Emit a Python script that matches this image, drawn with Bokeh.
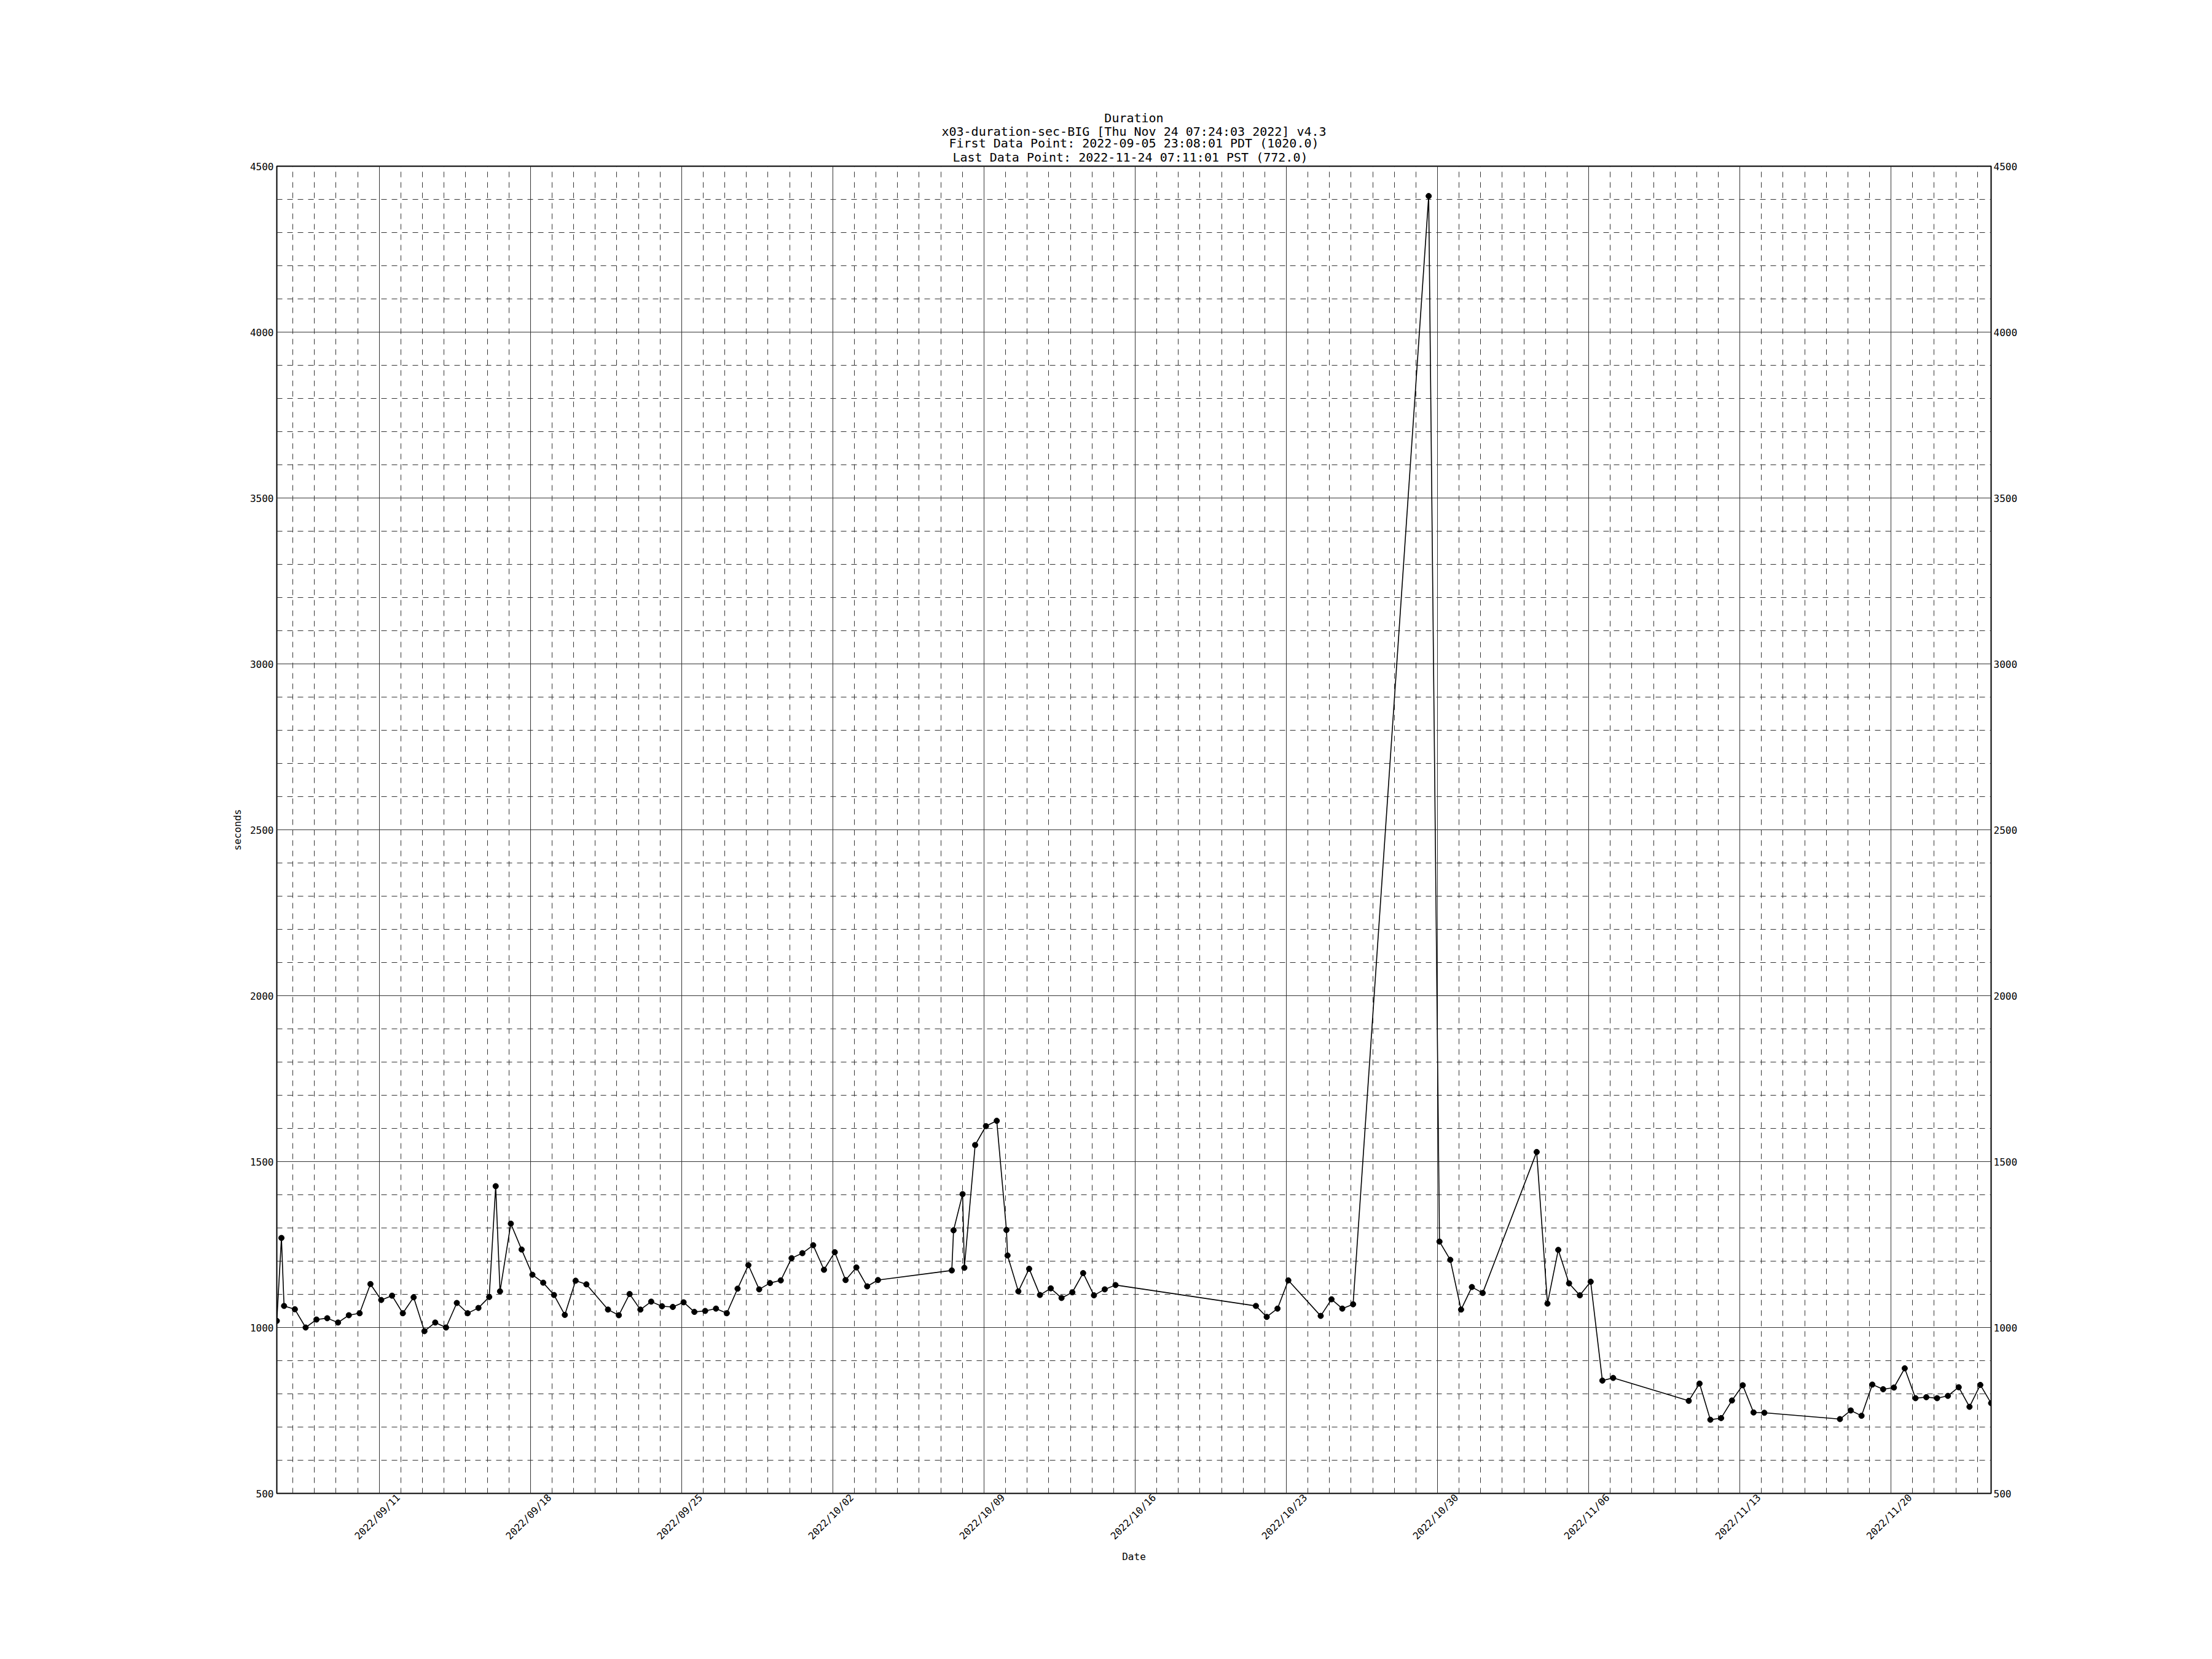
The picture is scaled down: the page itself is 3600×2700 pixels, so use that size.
import math
import pandas as pd
from bokeh.plotting import figure
from bokeh.models import Range1d, LinearAxis, DatetimeTickFormatter, FixedTicker, Title
from bokeh.embed import file_html
from bokeh.resources import INLINE

# ---------------- data (UTC timestamps, duration in seconds) ----------------
timestamps = [
    "2022-09-06 06:08:01", "2022-09-06 11:17", "2022-09-06 14:11", "2022-09-07 02:11", "2022-09-07 14:11",
    "2022-09-08 02:11", "2022-09-08 14:11", "2022-09-09 02:11", "2022-09-09 14:11", "2022-09-10 02:11",
    "2022-09-10 14:11", "2022-09-11 02:11", "2022-09-11 14:11", "2022-09-12 02:11", "2022-09-12 14:11",
    "2022-09-13 02:11", "2022-09-13 14:11", "2022-09-14 02:11", "2022-09-14 14:11", "2022-09-15 02:11",
    "2022-09-15 14:11", "2022-09-16 02:11", "2022-09-16 09:22", "2022-09-16 14:11", "2022-09-17 02:11",
    "2022-09-17 14:11", "2022-09-18 02:11", "2022-09-18 14:11", "2022-09-19 02:11", "2022-09-19 14:11",
    "2022-09-20 02:11", "2022-09-20 14:11", "2022-09-21 14:11", "2022-09-22 02:11", "2022-09-22 14:11",
    "2022-09-23 02:11", "2022-09-23 14:11", "2022-09-24 02:11", "2022-09-24 14:11", "2022-09-25 02:11",
    "2022-09-25 14:11", "2022-09-26 02:11", "2022-09-26 14:11", "2022-09-27 02:11", "2022-09-27 14:11",
    "2022-09-28 02:11", "2022-09-28 14:11", "2022-09-29 02:11", "2022-09-29 14:11", "2022-09-30 02:11",
    "2022-09-30 14:11", "2022-10-01 02:11", "2022-10-01 14:11", "2022-10-02 02:11", "2022-10-02 14:11",
    "2022-10-03 02:11", "2022-10-03 14:11", "2022-10-04 02:11", "2022-10-07 12:14", "2022-10-07 14:11",
    "2022-10-08 00:14", "2022-10-08 02:11", "2022-10-08 14:11", "2022-10-09 02:11", "2022-10-09 14:11",
    "2022-10-10 00:58", "2022-10-10 02:11", "2022-10-10 14:11", "2022-10-11 02:11", "2022-10-11 14:11",
    "2022-10-12 02:11", "2022-10-12 14:11", "2022-10-13 02:11", "2022-10-13 14:11", "2022-10-14 02:11",
    "2022-10-14 14:11", "2022-10-15 02:11", "2022-10-21 14:11", "2022-10-22 02:11", "2022-10-22 14:11",
    "2022-10-23 02:11", "2022-10-24 14:11", "2022-10-25 02:11", "2022-10-25 14:11", "2022-10-26 02:11",
    "2022-10-29 14:11", "2022-10-30 02:11", "2022-10-30 14:11", "2022-10-31 02:11", "2022-10-31 14:11",
    "2022-11-01 02:11", "2022-11-03 14:11", "2022-11-04 02:11", "2022-11-04 14:11", "2022-11-05 02:11",
    "2022-11-05 14:11", "2022-11-06 02:11", "2022-11-06 15:11", "2022-11-07 03:11", "2022-11-10 15:11",
    "2022-11-11 03:11", "2022-11-11 15:11", "2022-11-12 03:11", "2022-11-12 15:11", "2022-11-13 03:11",
    "2022-11-13 15:11", "2022-11-14 03:11", "2022-11-17 15:11", "2022-11-18 03:11", "2022-11-18 15:11",
    "2022-11-19 03:11", "2022-11-19 15:11", "2022-11-20 03:11", "2022-11-20 15:11", "2022-11-21 03:11",
    "2022-11-21 15:11", "2022-11-22 03:11", "2022-11-22 15:11", "2022-11-23 03:11", "2022-11-23 15:11",
    "2022-11-24 03:11", "2022-11-24 15:11:01",
]
durations = [
    1020, 1270, 1065, 1055, 1000,
    1024, 1028, 1015, 1037, 1043,
    1131, 1083, 1096, 1043, 1091,
    989, 1015, 1000, 1074, 1043,
    1059, 1092, 1426, 1109, 1313,
    1235, 1159, 1135, 1098, 1038,
    1141, 1130, 1054, 1037, 1101,
    1054, 1078, 1064, 1062, 1076,
    1047, 1050, 1057, 1043, 1117,
    1188, 1115, 1134, 1142, 1209,
    1224, 1248, 1174, 1227, 1143,
    1181, 1124, 1143, 1172, 1293,
    1402, 1180, 1550, 1607, 1623,
    1294, 1217, 1109, 1177, 1098,
    1118, 1089, 1106, 1164, 1097,
    1115, 1128, 1065, 1032, 1057,
    1142, 1035, 1085, 1057, 1070,
    4410, 1259, 1204, 1054, 1122,
    1104, 1529, 1072, 1234, 1133,
    1097, 1138, 840, 848, 779,
    831, 722, 727, 780, 826,
    744, 743, 724, 750, 734,
    828, 814, 819, 877, 787,
    790, 787, 794, 820, 761,
    827, 772,
]

y_major_ticks = list(range(500, 4501, 500))
y_minor_ticks = list(range(500, 4501, 100))

title_lines = [
    "Duration",
    "x03-duration-sec-BIG [Thu Nov 24 07:24:03 2022] v4.3",
    "First Data Point: 2022-09-05 23:08:01 PDT (1020.0)",
    "Last Data Point:  2022-11-24 07:11:01 PST (772.0)",
]
x_label = "Date"
y_label = "seconds"

# ---------------- layout ----------------
FONT = "DejaVu Sans Mono"
FIG_W, FIG_H = 3584, 2684
BORDER_L, BORDER_R, BORDER_T, BORDER_B = 450, 344, 270, 254
FRAME_W = FIG_W - BORDER_L - BORDER_R
LABEL_SHIFT_PX = 31   # date labels are centred on their tick, Bokeh ends them at it
TITLE_STANDOFFS = [6, -12.5, -3.0, -4.0]   # innermost line first

# ---------------- build ----------------
t = pd.to_datetime(timestamps, format="mixed")
week_ticks = pd.date_range(t.min().normalize(), t.max(), freq="W-SUN")
day_ticks = pd.date_range(t.min().normalize(), t.max(), freq="D")
week_ms = [float(ts.value / 1e6) for ts in week_ticks]
day_ms = [float(ts.value / 1e6) for ts in day_ticks]

x_start, x_end = t.min(), t.max()
ms_per_px = (x_end - x_start).total_seconds() * 1000.0 / FRAME_W
label_ms = [m + LABEL_SHIFT_PX * ms_per_px for m in week_ms]
label_text = {lm: ts.strftime("%Y/%m/%d") for lm, ts in zip(label_ms, week_ticks)}

p = figure(
    width=FIG_W, height=FIG_H,
    x_axis_type="datetime",
    x_range=Range1d(x_start.to_pydatetime(), x_end.to_pydatetime()),
    y_range=Range1d(min(y_major_ticks), max(y_major_ticks)),
    output_backend="svg", toolbar_location=None,
    min_border_left=BORDER_L, min_border_right=BORDER_R,
    min_border_top=BORDER_T, min_border_bottom=BORDER_B,
    background_fill_color="white", border_fill_color="white",
)
p.title.visible = False

# title lines, stacked outward from the frame (tight line spacing)
for line, so in zip(reversed(title_lines), TITLE_STANDOFFS):
    p.add_layout(Title(
        text=line, align="center", text_font=FONT, text_font_size="20px",
        text_font_style="normal", text_color="black", standoff=so), "above")

xgrid_ticker = FixedTicker(ticks=week_ms, minor_ticks=day_ms)
xlabel_ticker = FixedTicker(ticks=label_ms)
yticker = FixedTicker(ticks=y_major_ticks, minor_ticks=y_minor_ticks)

p.xaxis.ticker = xlabel_ticker
p.xaxis.major_label_overrides = label_text
p.yaxis.ticker = yticker
p.xaxis.formatter = DatetimeTickFormatter(
    days="%Y/%m/%d", months="%Y/%m/%d", hours="%Y/%m/%d", years="%Y/%m/%d")
p.xaxis.major_label_orientation = math.pi / 4
p.xaxis.axis_label = x_label
p.yaxis.axis_label = y_label

right_axis = LinearAxis(ticker=yticker)
p.add_layout(right_axis, "right")

for ax in p.axis:
    ax.axis_line_color = None
    ax.major_tick_line_color = None
    ax.minor_tick_line_color = None
    ax.major_tick_out = 0
    ax.major_tick_in = 0
    ax.minor_tick_out = 0
    ax.minor_tick_in = 0
    ax.major_label_text_font = FONT
    ax.major_label_text_font_size = "16px"
    ax.major_label_text_font_style = "normal"
    ax.major_label_text_color = "black"
    ax.axis_label_text_font = FONT
    ax.axis_label_text_font_size = "16px"
    ax.axis_label_text_font_style = "normal"
    ax.axis_label_text_color = "black"

p.yaxis[0].major_label_standoff = 5
p.yaxis[0].axis_label_standoff = 8
right_axis.major_label_standoff = 4
p.xaxis.major_label_standoff = 4
p.xaxis.axis_label_standoff = 5

p.outline_line_color = "black"
p.outline_line_width = 2

for g in (p.xgrid, p.ygrid):
    g.grid_line_color = "#333333"
    g.grid_line_width = 1
    g.minor_grid_line_color = "#333333"
    g.minor_grid_line_width = 1
    g.minor_grid_line_dash = "9 8"
p.xgrid.ticker = xgrid_ticker
p.ygrid.ticker = yticker

p.line(t, durations, line_color="black", line_width=1.6)
p.scatter(t, durations, size=9, fill_color="black", line_color="black")

open("out.html", "w").write(file_html(p, INLINE))
